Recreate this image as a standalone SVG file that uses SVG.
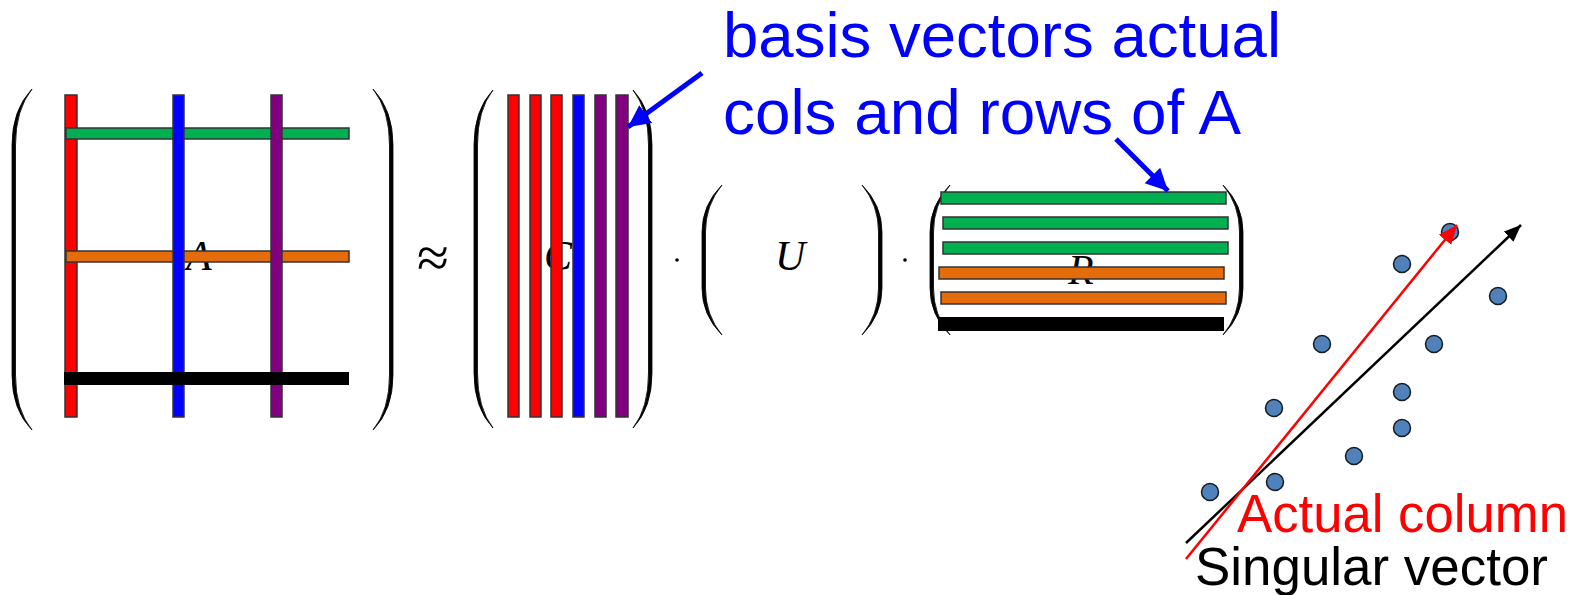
<svg xmlns="http://www.w3.org/2000/svg" width="1579" height="595" viewBox="0 0 1579 595">
<style>
.paren{fill:#000;stroke:#000;stroke-width:0.8;stroke-linejoin:round}
.bar{stroke:#333;stroke-width:1.5}
.r{fill:#ff0000}.b{fill:#0000ff}.p{fill:#800080}.g{fill:#00b050}.o{fill:#e46c0a}.k{fill:#000}
.math{font-family:"Liberation Serif",serif;font-style:italic;font-size:42px;fill:#000}
.dot{fill:#4f81bd;stroke:#1a1a1a;stroke-width:1.5}
.blue{font-family:"Liberation Sans",Arial,sans-serif;font-size:63px;fill:#0000ff}
.lbl{font-family:"Liberation Sans",Arial,sans-serif;font-size:53px}
</style>
<defs>
<marker id="ab" markerUnits="userSpaceOnUse" markerWidth="24" markerHeight="24" refX="22" refY="11" orient="auto" viewBox="0 0 24 22"><path d="M0 0 L22 11 L0 22 Z" fill="#0000ff"/></marker>
<marker id="ak" markerUnits="userSpaceOnUse" markerWidth="18" markerHeight="16" refX="17" refY="7" orient="auto" viewBox="0 0 18 14"><path d="M0 0 L17 7 L0 14 Z" fill="#000"/></marker>
<marker id="ar" markerUnits="userSpaceOnUse" markerWidth="20" markerHeight="18" refX="19" refY="8" orient="auto" viewBox="0 0 20 16"><path d="M0 0 L19 8 L0 16 Z" fill="#ff0000"/></marker>
</defs>

<g id="matrixA">
<path class="paren" d="M32 89 Q12 110 12 145 L12 375 Q12 410 32 430 Q15.5 410 15.5 375 L15.5 145 Q15.5 110 32 89 Z"/>
<path class="paren" d="M373 89 Q393 110 393 145 L393 375 Q393 410 373 430 Q389.5 410 389.5 375 L389.5 145 Q389.5 110 373 89 Z"/>
<text class="math" x="186" y="270">A</text>
<rect class="bar r" x="65" y="95" width="12" height="322"/>
<rect class="bar g" x="66" y="128" width="283" height="11"/>
<rect class="bar o" x="66" y="251" width="283" height="11"/>
<rect class="bar b" x="173" y="95" width="11" height="322"/>
<rect class="bar p" x="271" y="95" width="11" height="322"/>
<rect class="k" x="64" y="372" width="285" height="13"/>
</g>

<g id="approx">
<text x="433" y="277" text-anchor="middle" font-family="Liberation Serif,serif" font-size="58">≈</text>
</g>

<g id="matrixC">
<path class="paren" d="M493 90 Q474 110 474 145 L474 373 Q474 408 493 428 Q477.5 408 477.5 373 L477.5 145 Q477.5 110 493 90 Z"/>
<path class="paren" d="M633 90 Q652 110 652 145 L652 373 Q652 408 633 428 Q648.5 408 648.5 373 L648.5 145 Q648.5 110 633 90 Z"/>
<text class="math" x="544" y="270">C</text>
<rect class="bar r" x="508" y="95" width="11" height="322"/>
<rect class="bar r" x="530" y="95" width="11" height="322"/>
<rect class="bar r" x="551" y="95" width="11" height="322"/>
<rect class="bar b" x="573" y="95" width="11" height="322"/>
<rect class="bar p" x="595" y="95" width="11" height="322"/>
<rect class="bar p" x="616" y="95" width="12" height="322"/>
</g>

<g id="dot1"><circle cx="677" cy="260" r="1.8" fill="#000"/></g>

<g id="matrixU">
<path class="paren" d="M722 185 Q702 205 702 232 L702 288 Q702 315 722 335 Q705.5 315 705.5 288 L705.5 232 Q705.5 205 722 185 Z"/>
<path class="paren" d="M862 185 Q882 205 882 232 L882 288 Q882 315 862 335 Q878.5 315 878.5 288 L878.5 232 Q878.5 205 862 185 Z"/>
<text class="math" x="775" y="270" font-size="44">U</text>
</g>

<g id="dot2"><circle cx="905" cy="260" r="1.8" fill="#000"/></g>

<g id="matrixR">
<path class="paren" d="M950 185 Q930 205 930 232 L930 288 Q930 315 950 335 Q933.5 315 933.5 288 L933.5 232 Q933.5 205 950 185 Z"/>
<path class="paren" d="M1223 185 Q1243 205 1243 232 L1243 288 Q1243 315 1223 335 Q1239.5 315 1239.5 288 L1239.5 232 Q1239.5 205 1223 185 Z"/>
<text class="math" x="1068" y="284">R</text>
<rect class="bar g" x="941" y="192" width="285" height="12"/>
<rect class="bar g" x="943" y="217" width="285" height="12"/>
<rect class="bar g" x="943" y="242" width="285" height="12"/>
<rect class="bar o" x="939" y="267" width="285" height="12"/>
<rect class="bar o" x="941" y="292" width="285" height="12"/>
<rect class="k" x="938" y="317" width="286" height="14"/>
</g>

<g id="annotation">
<text class="blue" x="723" y="57" textLength="558" lengthAdjust="spacingAndGlyphs">basis vectors actual</text>
<text class="blue" x="723" y="134" textLength="518" lengthAdjust="spacingAndGlyphs">cols and rows of A</text>
</g>

<g id="scatter">
<circle class="dot" cx="1450" cy="232" r="8.5"/>
<circle class="dot" cx="1402" cy="264" r="8.5"/>
<circle class="dot" cx="1498" cy="296" r="8.5"/>
<circle class="dot" cx="1322" cy="344" r="8.5"/>
<circle class="dot" cx="1434" cy="344" r="8.5"/>
<circle class="dot" cx="1402" cy="392" r="8.5"/>
<circle class="dot" cx="1274" cy="408" r="8.5"/>
<circle class="dot" cx="1402" cy="428" r="8.5"/>
<circle class="dot" cx="1354" cy="456" r="8.5"/>
<circle class="dot" cx="1275" cy="482" r="8.5"/>
<circle class="dot" cx="1210" cy="492" r="8.5"/>
</g>

<g id="connectors">
<line x1="702" y1="73" x2="628" y2="127" stroke="#0000ff" stroke-width="5" marker-end="url(#ab)"/>
<line x1="1116" y1="139" x2="1168" y2="191" stroke="#0000ff" stroke-width="5" marker-end="url(#ab)"/>
<line x1="1186" y1="543" x2="1521" y2="225" stroke="#000" stroke-width="2.5" marker-end="url(#ak)"/>
<line x1="1186" y1="559" x2="1457" y2="225" stroke="#ff0000" stroke-width="2.5" marker-end="url(#ar)"/>
</g>

<g id="labels">
<text class="lbl" x="1237" y="532" fill="#ff0000" textLength="331" lengthAdjust="spacingAndGlyphs">Actual column</text>
<text class="lbl" x="1195" y="585" fill="#000" textLength="353" lengthAdjust="spacingAndGlyphs">Singular vector</text>
</g>
</svg>
